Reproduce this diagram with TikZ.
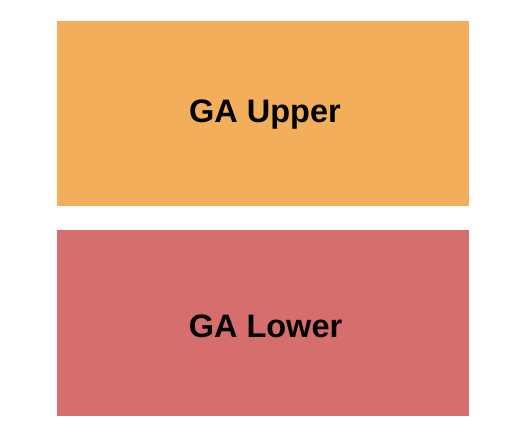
\documentclass[tikz,border=0pt]{standalone}
\usepackage{fontspec}
\setmainfont{Liberation Sans}
\definecolor{upperc}{HTML}{F2AE5A}
\definecolor{lowerc}{HTML}{D76E6E}
\begin{document}
\begin{tikzpicture}[x=1pt,y=1pt,
  label/.style={inner sep=0pt,anchor=base,font=\bfseries\fontsize{32.5}{36}\selectfont}]
\useasboundingbox (0,0) rectangle (525,444);
\fill[white] (0,0) rectangle (525,444);
\fill[upperc] (57,238) rectangle (469,423);
\fill[lowerc] (57,28) rectangle (469,214);
\node[label] (upper) at (265,321.7) {GA Upper};
\node[label] (lower) at (265.5,106.7) {GA Lower};
\end{tikzpicture}
\end{document}
